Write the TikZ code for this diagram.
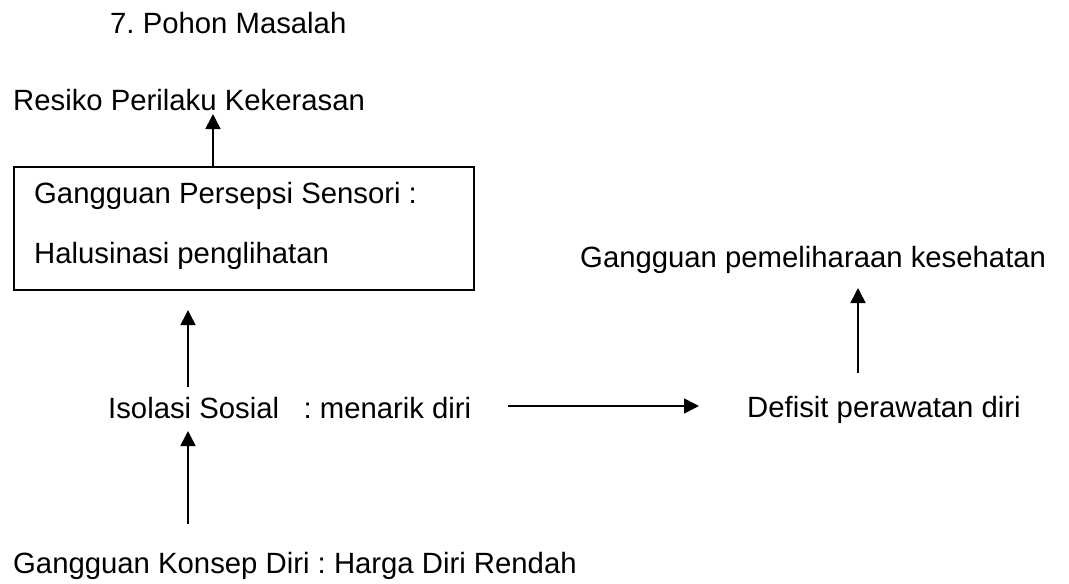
\documentclass[tikz,border=0pt]{standalone}
\usepackage{fontspec}
\setmainfont{Liberation Sans}
\usetikzlibrary{arrows.meta}
\frenchspacing
\tikzset{
  lbl/.style={anchor=base west, inner sep=0pt, font=\fontsize{29.3}{35}\selectfont\frenchspacing},
  arr/.style={line width=1.6pt, -{Triangle[length=15pt,width=15pt]}},
  frame/.style={draw, line width=1.6pt}
}
\begin{document}
\begin{tikzpicture}[x=1pt,y=-1pt]
\useasboundingbox (0,0) rectangle (1069,584);
\node[lbl] (title) at (110,33) {7. Pohon Masalah};
\node[lbl] (resiko) at (13,110) {Resiko Perilaku Kekerasan};
\node[frame, minimum width=460pt, minimum height=123pt, anchor=north west, inner sep=0pt] (box) at (13,166) {};
\node[lbl] (gps) at (34,203) {Gangguan Persepsi Sensori :};
\node[lbl] (hal) at (34,263) {Halusinasi penglihatan};
\node[lbl] (iso) at (108,418) {Isolasi Sosial\ \ \ : menarik diri};
\node[lbl] (kon) at (13,573) {Gangguan Konsep Diri : Harga Diri Rendah};
\node[lbl] (gpk) at (580,267) {Gangguan pemeliharaan kesehatan};
\node[lbl] (def) at (747,417) {Defisit perawatan diri};
% connector ends
\coordinate (t1) at (213,114);
\coordinate (s2) at (188,387);
\coordinate (t2) at (188,310);
\coordinate (s3) at (188,524);
\coordinate (t3) at (188,431);
\coordinate (s4) at (508,406);
\coordinate (t4) at (699,406);
\coordinate (s5) at (858,373);
\coordinate (t5) at (858,288);
\draw[arr] (box.north -| t1) -- (t1);
\draw[arr] (s2) -- (t2);
\draw[arr] (s3) -- (t3);
\draw[arr] (s4) -- (t4);
\draw[arr] (s5) -- (t5);
\end{tikzpicture}
\end{document}
